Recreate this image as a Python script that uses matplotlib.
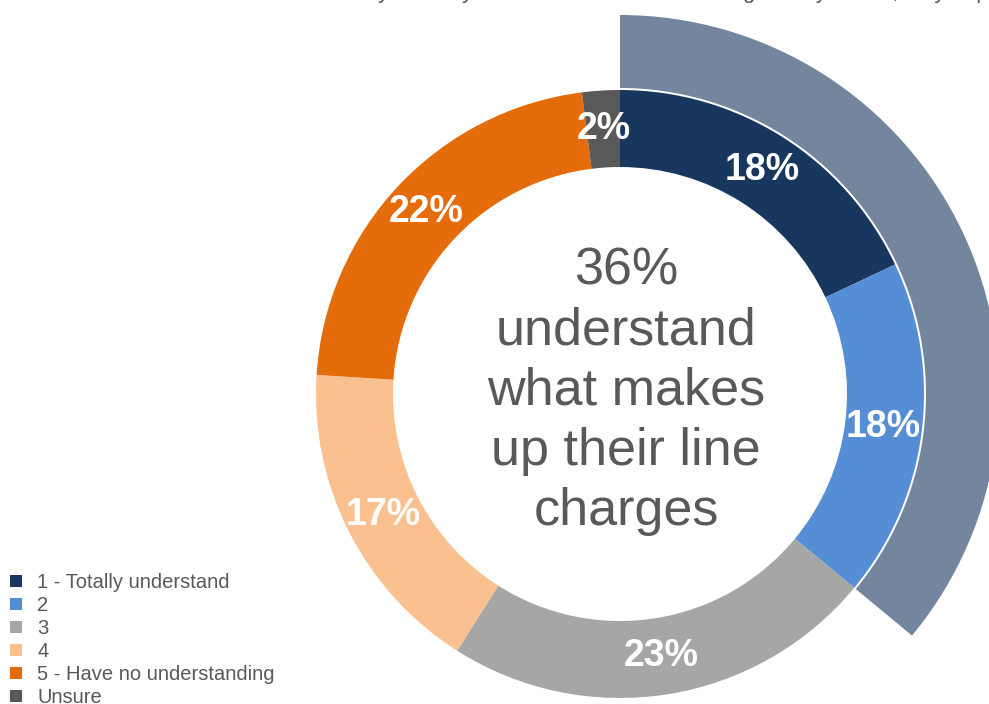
import numpy as np
import matplotlib.pyplot as plt
from matplotlib.patches import Patch

plt.rcParams['font.family'] = ['Liberation Sans', 'DejaVu Sans']

# survey answers, clockwise from 12 o'clock
categories = ["1 - Totally understand", "2", "3", "4",
              "5 - Have no understanding", "Unsure"]
shares = [18, 18, 23, 17, 22, 2]
colors = ["#17375E", "#558ED5", "#A6A6A6", "#FAC090", "#E46C0A", "#595959"]

# outer arc highlights the "understand" group (answers 1 and 2)
understand_total = 36
highlight_color = "#73869E"
center_lines = ["36%", "understand", "what makes", "up their line", "charges"]

W, H = 989, 704
fig = plt.figure(figsize=(W / 100, H / 100), dpi=100)
ax = fig.add_axes([0, 0, 1, 1])
ax.set_aspect('equal')
ax.axis('off')

cx, cy = 620, H - 394
r_out, ring = 304, 77

ax.pie(shares, colors=colors, radius=r_out, center=(cx, cy),
       startangle=90, counterclock=False,
       wedgeprops=dict(width=ring, linewidth=0))
ax.pie([understand_total, 100 - understand_total],
       colors=[highlight_color, 'none'], radius=379, center=(cx, cy),
       startangle=90, counterclock=False,
       wedgeprops=dict(width=73, linewidth=0))
ax.set_xlim(0, W)
ax.set_ylim(0, H)

# percentage labels in the middle of the ring
r_mid = r_out - ring / 2
start = 90.0
for v in shares:
    ang = np.deg2rad(start - v * 3.6 / 2)
    ax.text(cx + r_mid * np.cos(ang), cy + r_mid * np.sin(ang), f"{v}%",
            ha='center', va='center', color='white', fontsize=27,
            fontweight='bold')
    start -= v * 3.6

ax.text(cx + 6, cy + 3, "\n".join(center_lines), ha='center', va='center',
        color='#595959', fontsize=37.5, linespacing=1.29)

# question title runs off the top edge
fig.text(0.255, 1.0 + 2 / H, "How well do you feel you understand the line charges on your bill, as you pay, yearly?",
         ha='left', va='baseline', fontsize=16, color='#595959')

handles = [Patch(facecolor=c, edgecolor='none') for c in colors]
fig.legend(handles, categories, loc='upper left',
           bbox_to_anchor=(2 / W, 1 - 565 / H), frameon=False,
           fontsize=14.5, labelcolor='#595959', handlelength=0.6,
           handleheight=0.6, handletextpad=0.75, labelspacing=0.2,
           borderaxespad=0)

fig.savefig('out.png', dpi=100)
